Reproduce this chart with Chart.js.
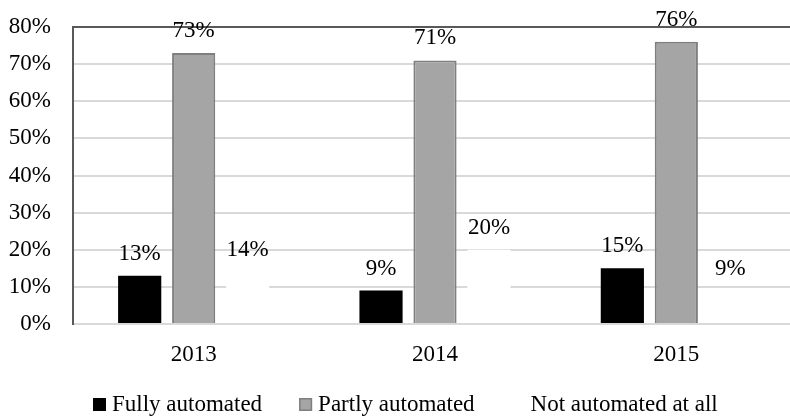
<!DOCTYPE html>
<html>
<head>
<meta charset="utf-8">
<script src="https://cdn.jsdelivr.net/npm/chart.js@4.4.1/dist/chart.umd.min.js"></script>
<style>
  html, body { margin: 0; padding: 0; background: #fff; overflow: hidden; }
  /* plot runs a few pixels past the right edge, as in the original */
  #wrap { width: 797px; height: 419px; }
</style>
</head>
<body>
<div id="wrap"><canvas id="chart"></canvas></div>
<script>
// categories and series (percent)
const years = ['2013', '2014', '2015'];
const fullyAutomated = [13, 9, 15];
const partlyAutomated = [73, 71, 76];
const notAutomated = [14, 20, 9];
const yTicks = [0, 10, 20, 30, 40, 50, 60, 70, 80];

const serif = '"Liberation Serif", "Times New Roman", serif';

// draws the value above each bar
const barLabels = {
    id: 'barLabels',
    afterDatasetsDraw(chart) {
        const ctx = chart.ctx;
        ctx.save();
        ctx.font = '23px ' + serif;
        ctx.fillStyle = '#000';
        ctx.textAlign = 'center';
        ctx.textBaseline = 'middle';
        chart.data.datasets.forEach((ds, i) => {
            chart.getDatasetMeta(i).data.forEach((bar, j) => {
                ctx.fillText(ds.data[j] + '%', bar.x, bar.y - 22);
            });
        });
        ctx.restore();
    }
};

// legend drawn by hand so it can start at the left like the original
const bottomLegend = {
    id: 'bottomLegend',
    afterDraw(chart) {
        const ctx = chart.ctx;
        const y = 405;
        let x = 93;
        ctx.save();
        ctx.font = '23px ' + serif;
        ctx.textBaseline = 'middle';
        chart.data.datasets.forEach(ds => {
            ctx.fillStyle = ds.backgroundColor;
            ctx.fillRect(x, y - 7, 13, 13);
            if (ds.borderWidth) {
                ctx.strokeStyle = ds.borderColor;
                ctx.lineWidth = 1.5;
                ctx.strokeRect(x + 0.75, y - 6.25, 11.5, 11.5);
            }
            x += 19;
            ctx.fillStyle = '#000';
            ctx.fillText(ds.label, x, y);
            x += ctx.measureText(ds.label).width + 37;
        });
        ctx.restore();
    }
};

new Chart(document.getElementById('chart'), {
    type: 'bar',
    data: {
        labels: years,
        datasets: [
            {
                label: 'Fully automated',
                data: fullyAutomated,
                backgroundColor: '#000000',
                borderColor: '#000000',
                borderWidth: 0
            },
            {
                label: 'Partly automated',
                data: partlyAutomated,
                backgroundColor: '#a5a5a5',
                borderColor: '#7f7f7f',
                borderWidth: 2
            },
            {
                label: 'Not automated at all',
                data: notAutomated,
                backgroundColor: '#ffffff',
                borderColor: '#ffffff',
                borderWidth: 0
            }
        ]
    },
    options: {
        responsive: true,
        maintainAspectRatio: false,
        animation: false,
        categoryPercentage: 0.671,
        barPercentage: 0.8,
        layout: { padding: { top: 27, right: 0, bottom: 0, left: 0 } },
        scales: {
            x: {
                grid: { display: false },
                border: { color: '#d9d9d9', width: 2 },
                ticks: { color: '#000', font: { family: serif, size: 23 }, padding: 9 },
                afterFit(scale) { scale.height = 95; }
            },
            y: {
                min: 0,
                max: 80,
                afterBuildTicks(scale) { scale.ticks = yTicks.map(v => ({ value: v })); },
                grid: {
                    drawTicks: false,
                    lineWidth: 2,
                    color: c => (c.tick && c.tick.value === 80 ? '#595959' : '#d9d9d9')
                },
                border: { color: '#595959', width: 2 },
                ticks: {
                    color: '#000',
                    padding: 22,
                    font: { family: serif, size: 23 },
                    callback: v => v + '%'
                },
                afterFit(scale) {
                    scale.width = 73;
                    scale.paddingTop = 0;
                    scale.paddingBottom = 0;
                }
            }
        },
        plugins: {
            legend: { display: false },
            tooltip: { enabled: false }
        }
    },
    plugins: [barLabels, bottomLegend]
});
</script>
</body>
</html>
